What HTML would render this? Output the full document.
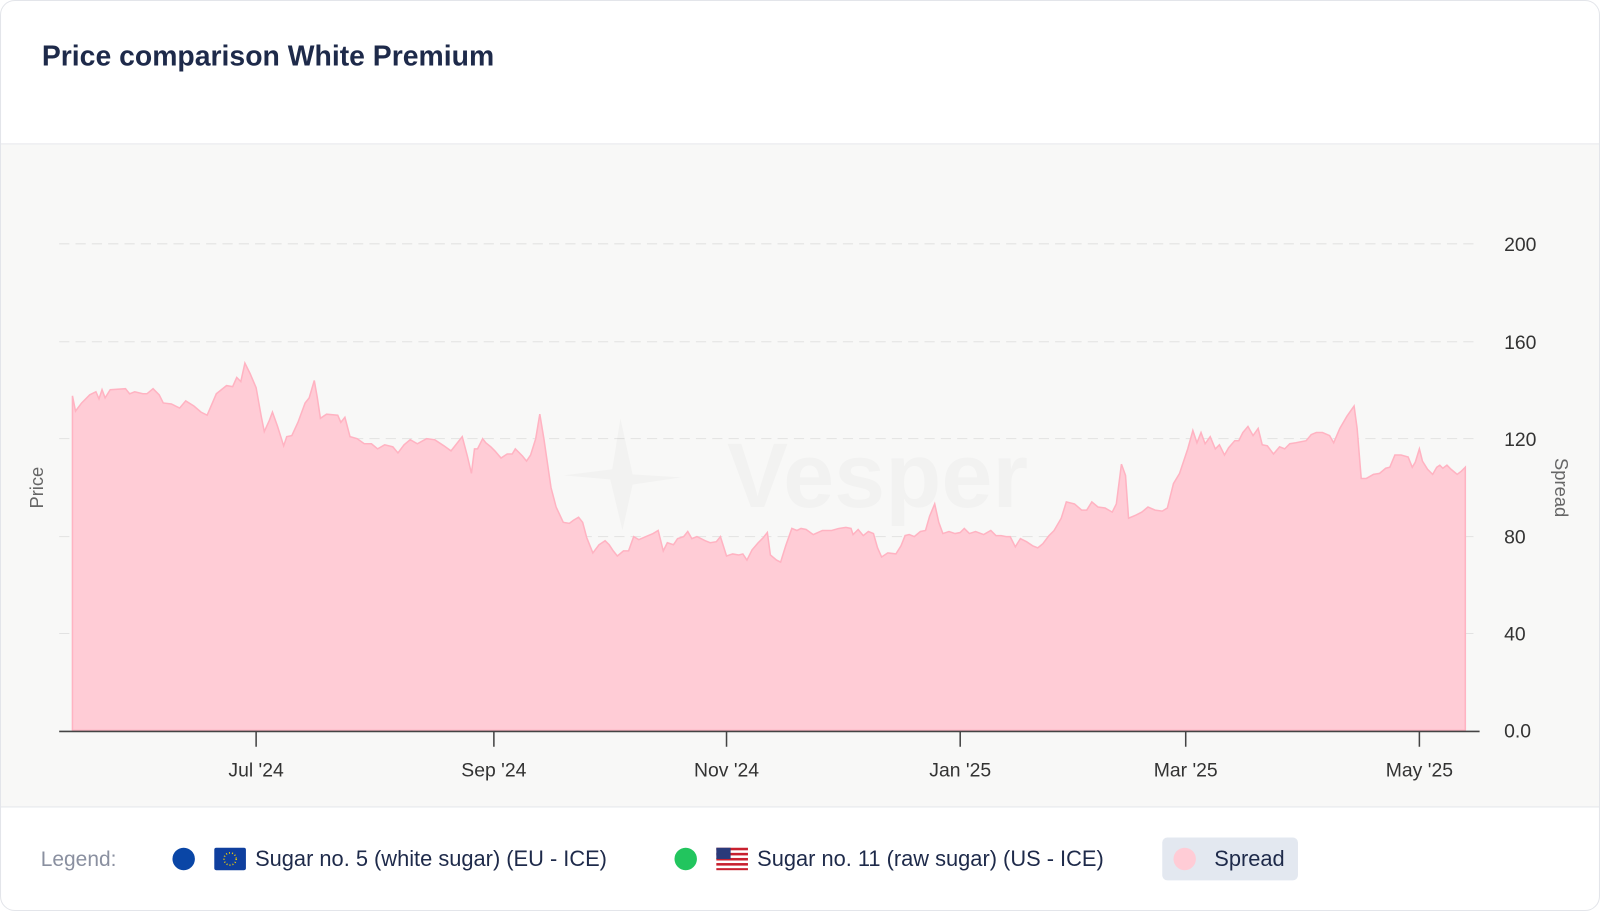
<!DOCTYPE html>
<html><head><meta charset="utf-8"><style>
html,body{margin:0;padding:0;background:#fff;}
svg{display:block;font-family:"Liberation Sans",Arial,sans-serif;}
</style></head><body>
<svg width="1600" height="911" viewBox="0 0 1568 893" preserveAspectRatio="none" xmlns="http://www.w3.org/2000/svg">
<rect x="0.5" y="0.5" width="1567" height="892" rx="14" fill="#fff" stroke="#e3e5ea"/>
<text x="41" y="64" font-size="27.8" font-weight="bold" fill="#1e2a4a">Price comparison White Premium</text>
<rect x="1" y="141" width="1566" height="650" fill="#f8f8f7"/>
<line x1="1" y1="141" x2="1567" y2="141" stroke="#e6e8ec"/>
<line x1="1" y1="791" x2="1567" y2="791" stroke="#e6e8ec"/>
<g stroke="#e2e2e2" stroke-dasharray="10,6" stroke-width="1">
<line x1="58" y1="239" x2="1450" y2="239"/><line x1="58" y1="335" x2="1450" y2="335"/>
<line x1="58" y1="430" x2="1450" y2="430"/><line x1="58" y1="526" x2="1450" y2="526"/>
<line x1="58" y1="621" x2="1450" y2="621"/></g>
<polygon fill="#ffccd6" stroke="#ffb3c2" stroke-width="1.5" points="71,716 71,388 74,403 80,395 88,387 94,384 97,391 100,382 103,390 108,382 123,381 127,386 132,384 140,386 144,386 150,381 156,387 160,395 168,396 176,400 182,393 190,398 197,404 203,407 212,386 222,378 228,379 232,370 236,374 240,356 245,366 251,380 256,408 259,423 264,412 267,404 272,418 278,437 281,428 286,427 292,414 299,395 303,390 308,373 311,390 314,410 320,406 331,407 334,414 338,409 343,428 350,430 357,435 364,435 370,440 377,436 385,438 390,444 396,436 402,431 409,435 418,430 426,431 435,437 442,442 453,428 458,447 462,464 465,440 468,440 473,430 476,434 481,438 485,442 491,449 497,445 502,445 505,440 512,447 516,452 520,446 525,430 529,406 533,430 540,478 545,497 552,512 558,513 562,510 567,507 571,512 575,527 581,542 587,534 593,530 597,534 601,540 605,545 611,540 616,540 621,526 626,529 633,526 640,523 645,520 650,540 654,532 660,534 664,528 670,526 674,521 678,528 683,526 691,530 696,532 702,531 706,526 712,545 718,543 724,544 728,543 732,549 737,539 743,532 748,527 752,522 755,544 761,549 765,551 770,535 776,518 781,520 785,518 790,519 797,524 806,520 815,520 822,518 829,517 834,518 836,524 841,519 846,525 851,521 856,523 860,537 864,546 870,542 878,543 883,535 887,525 891,524 896,526 902,521 907,520 911,506 916,494 920,512 924,523 930,521 936,523 941,522 945,518 950,523 956,521 964,524 971,520 976,525 981,525 986,526 990,526 995,536 1000,528 1006,531 1012,535 1017,537 1022,533 1028,525 1033,520 1040,508 1045,492 1053,494 1060,500 1065,500 1070,492 1076,497 1083,498 1090,502 1094,494 1099,455 1103,466 1106,508 1113,505 1119,502 1125,497 1132,500 1139,501 1144,498 1150,474 1156,464 1159,455 1164,440 1169,422 1173,434 1177,424 1181,435 1186,428 1191,440 1195,436 1200,446 1204,439 1210,432 1214,432 1218,424 1223,418 1228,427 1233,420 1237,436 1242,437 1248,445 1254,438 1259,440 1264,435 1270,434 1280,432 1285,426 1290,424 1296,424 1303,427 1307,434 1313,420 1320,408 1327,398 1330,420 1334,469 1339,469 1346,465 1352,464 1358,459 1362,458 1367,446 1373,446 1380,448 1384,458 1387,453 1391,440 1394,452 1399,460 1404,465 1408,458 1411,456 1414,459 1418,456 1422,460 1428,465 1432,462 1436,458 1436,716"/>
<path d="M608,410 L620,465 L668,468 L620,475 L610,520 L598,470 L552,466 L600,460 Z" fill="#000" fill-opacity="0.025"/>
<text x="860" y="497" font-size="90" font-weight="bold" fill="#000" fill-opacity="0.025" text-anchor="middle">Vesper</text>
<line x1="58" y1="717" x2="1450" y2="717" stroke="#444" stroke-width="1.5"/>
<g stroke="#444" stroke-width="1.5">
<line x1="251" y1="717" x2="251" y2="732"/><line x1="484" y1="717" x2="484" y2="732"/>
<line x1="712" y1="717" x2="712" y2="732"/><line x1="941" y1="717" x2="941" y2="732"/>
<line x1="1162" y1="717" x2="1162" y2="732"/><line x1="1391" y1="717" x2="1391" y2="732"/></g>
<g font-size="19" fill="#333" text-anchor="middle">
<text x="251" y="761">Jul '24</text><text x="484" y="761">Sep '24</text><text x="712" y="761">Nov '24</text>
<text x="941" y="761">Jan '25</text><text x="1162" y="761">Mar '25</text><text x="1391" y="761">May '25</text></g>
<g font-size="19" fill="#333">
<text x="1474" y="246">200</text><text x="1474" y="342">160</text><text x="1474" y="437">120</text>
<text x="1474" y="533">80</text><text x="1474" y="628">40</text><text x="1474" y="723">0.0</text></g>
<text transform="translate(42,478) rotate(-90)" font-size="18" fill="#666" text-anchor="middle">Price</text>
<text transform="translate(1524,478) rotate(90)" font-size="18" fill="#666" text-anchor="middle">Spread</text>
<text x="40" y="849" font-size="20.5" fill="#8a90a0">Legend:</text>
<circle cx="180" cy="842" r="11" fill="#0a46a6"/>
<rect x="210" y="831" width="31" height="22" rx="2" fill="#0f3f9e"/>
<circle cx="225.5" cy="842" r="6" fill="none" stroke="#f5d000" stroke-width="1.5" stroke-dasharray="1,2"/>
<text x="250" y="849" font-size="21.4" fill="#1e2a4a">Sugar no. 5 (white sugar) (EU - ICE)</text>
<circle cx="672" cy="842" r="11" fill="#22c55e"/>
<g><rect x="702" y="831" width="31" height="22" fill="#fff"/>
<g fill="#c8202f"><rect x="702" y="831" width="31" height="2.5"/><rect x="702" y="836" width="31" height="2.5"/><rect x="702" y="841" width="31" height="2.5"/><rect x="702" y="846" width="31" height="2.5"/><rect x="702" y="851" width="31" height="2"/></g>
<rect x="702" y="831" width="14" height="11" fill="#2a3a7a"/></g>
<text x="742" y="849" font-size="21.4" fill="#1e2a4a">Sugar no. 11 (raw sugar) (US - ICE)</text>
<rect x="1139" y="821" width="133" height="42" rx="5" fill="#e3e8f0"/>
<circle cx="1161" cy="842" r="11" fill="#ffccd6"/>
<text x="1190" y="849" font-size="21.4" fill="#1e2a4a">Spread</text>
</svg>
</body></html>
